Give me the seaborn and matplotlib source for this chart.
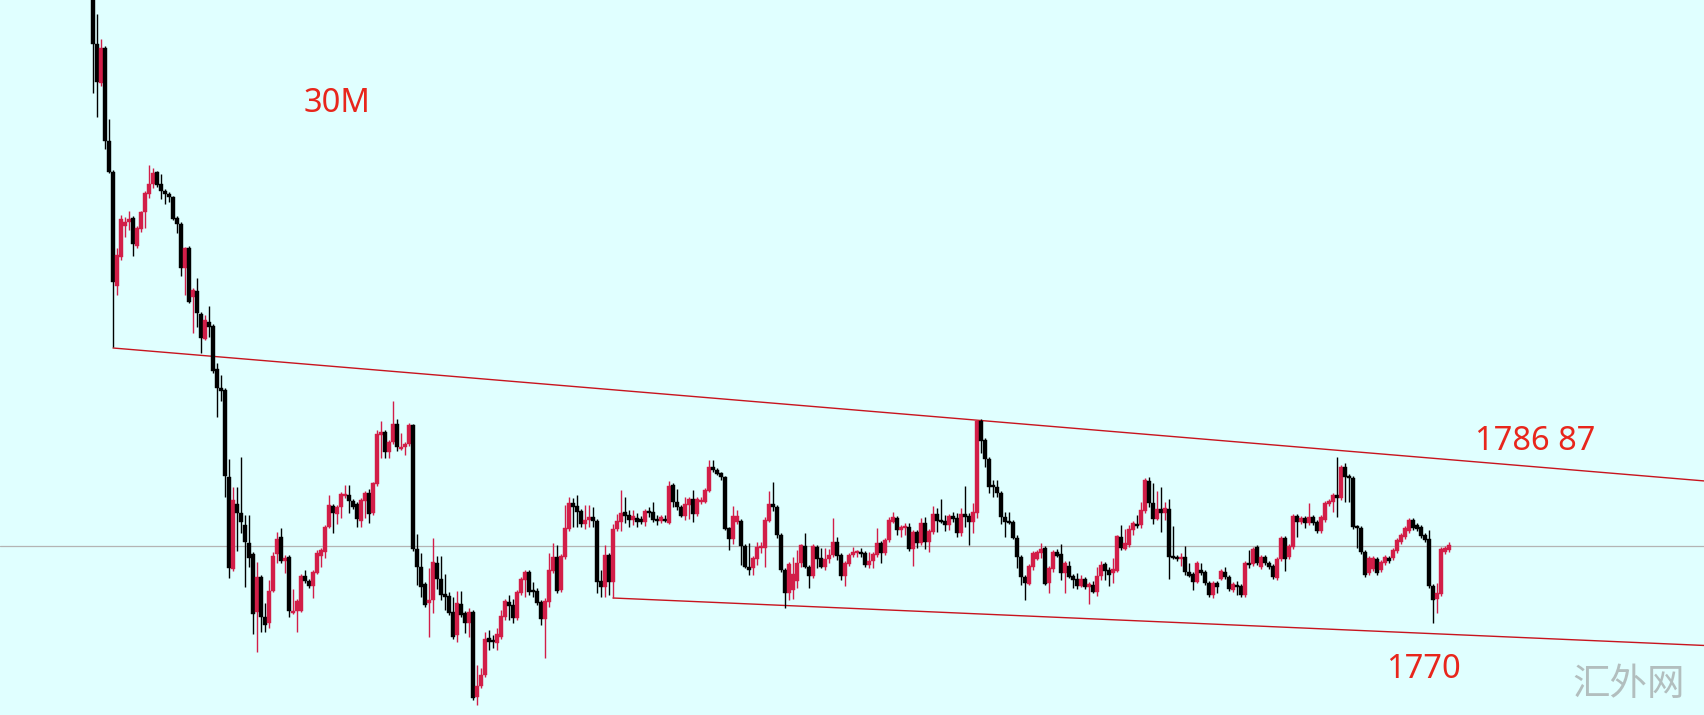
import numpy as np
import pandas as pd
import matplotlib
matplotlib.use("Agg")
import matplotlib.pyplot as plt
import seaborn as sns

# ---------------- data (30-minute candles) ----------------
opens = [
 1835.5, 1828.6, 1824.7, 1828.2, 1818.9, 1815.8, 1804.4, 1807.3, 1810.4, 1810.8,
 1811.2, 1808.4, 1810.1, 1811.8, 1813.6, 1814.6, 1815.8, 1814.6, 1813.9, 1813.6,
 1813.3, 1811.2, 1810.6, 1806.2, 1808.2, 1803.3, 1803.9, 1801.6, 1799.1, 1800.8,
 1800.4, 1796.1, 1794.2, 1794.0, 1785.3, 1776.1, 1782.6, 1781.7, 1780.5, 1778.7,
 1777.6, 1771.8, 1775.3, 1771.3, 1770.7, 1773.9, 1777.6, 1779.3, 1776.9, 1777.3,
 1771.7, 1771.9, 1771.9, 1775.4, 1774.9, 1774.4, 1775.7, 1777.4, 1777.8, 1780.3,
 1782.4, 1781.6, 1782.3, 1783.4, 1783.5, 1782.9, 1782.6, 1780.9, 1782.9, 1783.7,
 1781.7, 1784.6, 1789.5, 1789.8, 1787.8, 1788.8, 1790.6, 1788.1, 1788.3, 1788.6,
 1790.5, 1778.1, 1776.3, 1774.6, 1772.7, 1773.0, 1776.7, 1775.1, 1773.6, 1773.4,
 1771.8, 1769.5, 1772.6, 1771.7, 1770.7, 1771.8, 1763.3, 1764.4, 1765.5, 1769.2,
 1768.9, 1768.7, 1769.3, 1771.3, 1772.8, 1772.5, 1771.2, 1773.7, 1775.0, 1775.8,
 1773.9, 1773.9, 1772.8, 1771.1, 1772.8, 1775.9, 1777.3, 1774.0, 1777.3, 1780.1,
 1782.7, 1782.4, 1781.9, 1780.6, 1781.0, 1781.3, 1780.9, 1774.9, 1774.3, 1777.5,
 1774.8, 1780.1, 1780.8, 1781.8, 1781.5, 1781.0, 1781.2, 1781.1, 1780.8, 1781.9,
 1781.8, 1781.1, 1780.9, 1781.1, 1780.7, 1784.5, 1782.8, 1782.3, 1781.4, 1782.5,
 1783.1, 1781.6, 1782.8, 1782.8, 1783.9, 1786.3, 1786.0, 1785.7, 1785.3, 1780.2,
 1779.1, 1780.8, 1780.9, 1778.4, 1776.3, 1776.2, 1777.1, 1778.2, 1778.2, 1780.9,
 1782.6, 1782.3, 1779.5, 1776.0, 1773.7, 1774.0, 1774.9, 1776.7, 1778.4, 1776.3,
 1775.4, 1778.3, 1777.2, 1776.3, 1777.1, 1777.5, 1778.8, 1777.5, 1775.4, 1776.6,
 1777.5, 1777.7, 1777.7, 1777.7, 1776.5, 1776.9, 1777.5, 1778.7, 1777.7, 1779.0,
 1780.8, 1781.2, 1780.0, 1780.2, 1780.3, 1778.1, 1779.8, 1778.7, 1780.7, 1778.8,
 1779.8, 1781.6, 1781.0, 1780.9, 1780.5, 1781.4, 1781.2, 1779.7, 1781.6, 1781.4,
 1780.8, 1781.7, 1790.9, 1789.0, 1787.1, 1784.4, 1784.3, 1783.7, 1781.3, 1780.9,
 1780.8, 1779.2, 1777.3, 1775.3, 1774.6, 1776.3, 1777.1, 1777.7, 1778.2, 1774.7,
 1776.1, 1777.8, 1777.6, 1775.7, 1776.4, 1775.4, 1775.1, 1774.4, 1775.1, 1774.3,
 1774.5, 1773.8, 1775.4, 1776.6, 1776.0, 1775.7, 1775.9, 1779.3, 1778.1, 1778.5,
 1780.0, 1780.6, 1780.5, 1781.9, 1784.9, 1782.7, 1781.1, 1782.1, 1781.7, 1782.1,
 1777.4, 1777.3, 1777.1, 1777.3, 1775.8, 1775.6, 1774.8, 1776.0, 1775.8, 1774.7,
 1773.5, 1774.7, 1775.1, 1775.8, 1775.3, 1774.0, 1774.5, 1774.4, 1773.5, 1776.7,
 1776.6, 1778.3, 1776.3, 1777.3, 1776.7, 1776.4, 1775.2, 1777.1, 1779.2, 1777.3,
 1778.3, 1781.4, 1780.8, 1781.2, 1780.7, 1781.3, 1780.8, 1779.9, 1781.0, 1782.6,
 1782.8, 1783.5, 1783.2, 1786.3, 1785.4, 1785.2, 1780.3, 1780.2, 1777.8, 1775.7,
 1776.1, 1777.1, 1776.0, 1776.7, 1777.2, 1777.2, 1777.9, 1778.8, 1779.3, 1779.9,
 1781.0, 1780.5, 1780.3, 1779.5, 1779.1, 1774.4, 1773.1, 1773.6, 1777.8, 1778.0,
]
highs = [
 1836.5, 1831.6, 1829.1, 1828.4, 1821.1, 1816.0, 1808.2, 1811.5, 1811.3, 1811.9,
 1811.4, 1810.4, 1811.9, 1813.9, 1816.5, 1816.2, 1815.9, 1815.6, 1814.1, 1813.8,
 1813.4, 1811.4, 1810.8, 1808.3, 1808.4, 1804.2, 1805.2, 1801.8, 1801.5, 1802.4,
 1800.6, 1796.7, 1795.5, 1794.2, 1787.1, 1784.3, 1784.3, 1787.3, 1781.5, 1781.5,
 1777.8, 1776.8, 1775.5, 1772.7, 1775.0, 1777.8, 1779.8, 1780.2, 1777.5, 1777.5,
 1774.1, 1773.1, 1775.6, 1776.0, 1775.1, 1776.0, 1778.0, 1778.2, 1780.5, 1783.5,
 1782.6, 1782.5, 1783.8, 1784.5, 1784.5, 1783.1, 1782.8, 1783.2, 1783.9, 1784.1,
 1784.8, 1790.0, 1790.9, 1790.0, 1789.0, 1792.9, 1791.1, 1789.7, 1788.8, 1790.7,
 1790.6, 1779.6, 1777.7, 1774.8, 1776.2, 1779.2, 1777.4, 1777.4, 1775.6, 1773.8,
 1773.3, 1773.9, 1773.9, 1771.9, 1772.2, 1772.0, 1766.5, 1766.2, 1769.8, 1770.0,
 1769.5, 1770.2, 1772.0, 1773.1, 1773.5, 1773.1, 1774.0, 1775.3, 1776.0, 1776.0,
 1774.8, 1774.2, 1773.0, 1773.2, 1777.7, 1778.7, 1778.5, 1777.6, 1782.5, 1783.3,
 1783.2, 1783.5, 1782.1, 1782.5, 1782.5, 1782.3, 1781.1, 1776.0, 1778.5, 1777.7,
 1780.6, 1781.6, 1784.0, 1783.3, 1782.0, 1782.0, 1781.7, 1781.4, 1782.1, 1782.3,
 1782.8, 1781.5, 1781.5, 1781.5, 1784.9, 1784.7, 1784.1, 1782.5, 1783.3, 1783.3,
 1784.0, 1783.3, 1783.3, 1784.2, 1787.0, 1787.0, 1786.2, 1785.8, 1785.4, 1780.3,
 1782.4, 1782.0, 1781.1, 1778.6, 1778.7, 1777.4, 1778.8, 1778.8, 1781.3, 1783.9,
 1784.8, 1782.5, 1779.7, 1776.2, 1776.8, 1777.3, 1778.0, 1778.6, 1779.7, 1776.5,
 1778.6, 1778.5, 1778.2, 1778.2, 1778.1, 1781.2, 1779.3, 1777.7, 1776.9, 1777.7,
 1778.3, 1778.0, 1778.2, 1777.9, 1777.8, 1777.8, 1780.2, 1778.9, 1779.2, 1781.3,
 1781.8, 1781.4, 1780.5, 1780.7, 1780.7, 1780.0, 1780.0, 1781.2, 1781.3, 1780.1,
 1782.4, 1782.2, 1783.1, 1781.5, 1781.6, 1781.8, 1781.7, 1782.2, 1784.4, 1781.7,
 1782.7, 1791.0, 1791.1, 1789.2, 1787.3, 1785.0, 1785.0, 1783.9, 1781.8, 1781.8,
 1781.0, 1779.5, 1777.5, 1775.5, 1776.6, 1777.9, 1778.0, 1778.7, 1778.4, 1776.4,
 1778.0, 1778.1, 1778.6, 1776.9, 1776.9, 1775.6, 1775.7, 1775.5, 1775.3, 1774.8,
 1774.9, 1776.3, 1776.9, 1776.8, 1776.3, 1777.2, 1779.5, 1780.5, 1780.1, 1780.5,
 1780.9, 1781.5, 1782.8, 1785.2, 1785.3, 1784.7, 1783.9, 1784.3, 1782.8, 1783.1,
 1780.4, 1777.5, 1777.7, 1778.4, 1776.7, 1775.8, 1776.9, 1776.7, 1776.0, 1774.9,
 1774.9, 1774.9, 1776.1, 1776.3, 1775.5, 1774.8, 1774.9, 1774.6, 1776.9, 1778.0,
 1778.3, 1778.5, 1777.5, 1777.5, 1776.9, 1776.6, 1777.3, 1779.4, 1779.4, 1778.6,
 1781.6, 1781.6, 1781.4, 1781.4, 1782.7, 1781.5, 1781.0, 1781.5, 1782.9, 1783.1,
 1783.7, 1787.3, 1786.5, 1786.7, 1785.6, 1785.4, 1780.5, 1780.4, 1778.0, 1777.4,
 1777.4, 1777.3, 1777.0, 1777.5, 1777.4, 1778.2, 1779.2, 1779.7, 1780.4, 1781.2,
 1781.2, 1780.7, 1780.5, 1779.7, 1780.0, 1774.6, 1774.7, 1778.3, 1778.4, 1778.8,
]
lows = [
 1823.7, 1821.3, 1824.4, 1818.1, 1815.7, 1798.3, 1803.5, 1807.0, 1809.3, 1810.0,
 1807.4, 1808.2, 1809.8, 1810.2, 1813.2, 1814.2, 1814.3, 1813.1, 1812.6, 1812.8,
 1811.0, 1809.7, 1805.4, 1803.5, 1802.7, 1799.7, 1800.3, 1797.7, 1799.0, 1799.3,
 1795.7, 1791.3, 1792.9, 1783.3, 1775.2, 1775.9, 1777.9, 1779.7, 1774.3, 1776.3,
 1769.6, 1767.8, 1769.8, 1769.8, 1770.2, 1773.8, 1776.7, 1776.7, 1775.7, 1771.3,
 1771.6, 1769.8, 1771.8, 1774.7, 1774.2, 1773.2, 1775.6, 1776.3, 1777.2, 1780.2,
 1779.7, 1780.6, 1781.2, 1783.2, 1781.7, 1782.1, 1780.3, 1780.3, 1781.2, 1780.7,
 1781.5, 1784.4, 1787.2, 1787.2, 1787.2, 1788.6, 1787.9, 1788.0, 1787.5, 1788.4,
 1777.9, 1774.5, 1773.3, 1772.3, 1769.3, 1771.7, 1774.1, 1773.0, 1772.0, 1771.5,
 1769.1, 1768.8, 1771.3, 1769.7, 1769.3, 1763.0, 1762.5, 1764.2, 1765.3, 1768.0,
 1768.2, 1768.0, 1769.1, 1771.0, 1771.0, 1770.7, 1771.0, 1773.5, 1773.3, 1773.5,
 1773.3, 1772.5, 1770.5, 1767.2, 1772.3, 1775.7, 1773.7, 1773.8, 1777.1, 1779.9,
 1780.3, 1780.3, 1780.3, 1780.1, 1780.3, 1780.3, 1773.7, 1773.3, 1773.3, 1773.5,
 1773.2, 1779.9, 1779.9, 1780.7, 1780.3, 1780.5, 1780.3, 1780.6, 1780.4, 1781.3,
 1780.8, 1780.5, 1780.7, 1780.8, 1780.6, 1782.3, 1782.0, 1781.3, 1781.0, 1781.1,
 1780.8, 1781.4, 1782.6, 1782.7, 1783.8, 1785.8, 1785.5, 1785.0, 1780.0, 1778.0,
 1778.6, 1780.6, 1776.5, 1776.2, 1775.5, 1775.5, 1776.5, 1777.7, 1776.3, 1780.8,
 1781.9, 1779.2, 1775.8, 1772.2, 1773.0, 1773.1, 1774.2, 1776.3, 1776.2, 1774.2,
 1775.2, 1776.2, 1776.2, 1776.0, 1776.7, 1777.3, 1777.0, 1775.0, 1774.4, 1776.4,
 1777.3, 1777.3, 1777.3, 1776.3, 1776.2, 1776.2, 1777.3, 1776.7, 1777.5, 1778.8,
 1780.7, 1779.5, 1779.3, 1779.5, 1777.9, 1776.4, 1778.2, 1778.5, 1778.1, 1777.8,
 1779.6, 1779.8, 1780.7, 1779.9, 1780.0, 1780.8, 1779.3, 1779.4, 1780.3, 1778.5,
 1779.7, 1781.2, 1787.7, 1786.3, 1783.7, 1783.3, 1783.3, 1780.6, 1779.3, 1780.6,
 1779.1, 1776.2, 1774.5, 1773.0, 1774.5, 1776.0, 1777.0, 1777.2, 1774.5, 1773.7,
 1775.8, 1777.3, 1775.0, 1773.7, 1775.2, 1774.2, 1774.1, 1774.3, 1774.1, 1772.6,
 1773.7, 1773.4, 1775.0, 1775.0, 1774.4, 1774.7, 1775.8, 1778.0, 1778.0, 1778.3,
 1779.5, 1780.2, 1780.2, 1781.7, 1782.3, 1780.6, 1781.0, 1779.8, 1781.0, 1775.1,
 1777.1, 1776.9, 1776.4, 1775.5, 1775.3, 1774.0, 1774.7, 1775.5, 1774.5, 1773.3,
 1773.2, 1773.7, 1775.0, 1775.1, 1773.9, 1773.8, 1773.5, 1773.3, 1773.3, 1776.2,
 1776.4, 1776.5, 1776.1, 1776.5, 1776.1, 1775.1, 1775.0, 1776.9, 1775.9, 1777.1,
 1778.1, 1779.3, 1780.6, 1780.2, 1780.5, 1780.5, 1779.7, 1779.7, 1780.8, 1782.4,
 1781.8, 1781.3, 1783.0, 1782.8, 1782.8, 1780.1, 1778.2, 1777.6, 1775.3, 1775.5,
 1775.9, 1775.5, 1775.8, 1776.5, 1776.7, 1777.0, 1777.7, 1778.6, 1779.1, 1779.7,
 1780.0, 1779.9, 1779.2, 1778.8, 1774.2, 1770.7, 1771.7, 1773.4, 1777.6, 1777.8,
]
closes = [
 1828.6, 1824.8, 1828.2, 1818.9, 1815.8, 1804.8, 1807.5, 1811.1, 1810.8, 1811.1,
 1808.6, 1810.2, 1811.8, 1813.7, 1814.6, 1815.7, 1814.5, 1813.9, 1813.6, 1813.3,
 1811.1, 1810.6, 1806.2, 1808.2, 1802.8, 1804.0, 1801.7, 1799.2, 1801.0, 1800.3,
 1795.9, 1794.2, 1793.9, 1785.4, 1776.2, 1783.0, 1781.7, 1780.8, 1778.8, 1777.2,
 1771.6, 1775.3, 1771.3, 1770.5, 1773.9, 1777.4, 1779.1, 1776.9, 1777.2, 1771.9,
 1771.9, 1772.9, 1775.4, 1774.9, 1774.4, 1775.8, 1777.7, 1778.0, 1780.3, 1782.5,
 1781.7, 1782.3, 1783.6, 1783.6, 1782.9, 1782.3, 1781.1, 1783.0, 1783.7, 1781.6,
 1784.7, 1789.6, 1789.8, 1787.8, 1788.8, 1790.6, 1788.3, 1788.3, 1788.6, 1790.5,
 1778.1, 1776.3, 1774.3, 1772.5, 1773.0, 1776.8, 1775.1, 1773.5, 1773.3, 1771.7,
 1769.3, 1772.7, 1771.5, 1770.7, 1771.8, 1763.2, 1764.4, 1765.5, 1769.1, 1768.8,
 1768.8, 1769.6, 1771.4, 1772.9, 1772.4, 1771.2, 1773.8, 1775.1, 1775.8, 1773.8,
 1773.8, 1772.7, 1771.1, 1772.9, 1776.0, 1777.3, 1773.9, 1777.4, 1780.2, 1782.7,
 1782.3, 1781.8, 1780.6, 1781.0, 1781.3, 1780.9, 1774.8, 1774.3, 1777.5, 1774.8,
 1780.1, 1780.9, 1781.7, 1781.4, 1781.0, 1781.4, 1780.8, 1780.8, 1781.9, 1781.7,
 1781.0, 1780.9, 1781.3, 1780.9, 1784.4, 1782.8, 1782.3, 1781.4, 1782.6, 1783.1,
 1781.6, 1783.1, 1783.0, 1784.0, 1786.3, 1786.0, 1785.6, 1785.3, 1780.1, 1779.1,
 1781.4, 1781.4, 1778.4, 1776.3, 1776.0, 1777.2, 1778.3, 1778.4, 1781.0, 1782.6,
 1782.3, 1779.5, 1776.0, 1773.7, 1776.6, 1775.6, 1776.7, 1778.5, 1776.3, 1775.4,
 1778.4, 1777.1, 1776.3, 1777.1, 1777.5, 1778.8, 1777.4, 1775.4, 1776.7, 1777.5,
 1777.8, 1777.8, 1777.6, 1776.5, 1776.9, 1777.6, 1778.7, 1777.7, 1779.0, 1781.0,
 1781.3, 1780.0, 1780.3, 1780.3, 1778.1, 1779.8, 1778.7, 1780.7, 1778.8, 1779.9,
 1781.6, 1780.9, 1780.8, 1780.5, 1781.4, 1781.1, 1779.7, 1781.6, 1781.3, 1780.8,
 1781.8, 1790.9, 1788.9, 1787.1, 1784.3, 1784.3, 1783.7, 1781.3, 1780.8, 1780.7,
 1779.2, 1777.3, 1775.3, 1774.7, 1776.4, 1777.7, 1777.8, 1778.1, 1774.6, 1776.2,
 1777.8, 1777.4, 1775.7, 1776.7, 1775.3, 1775.0, 1774.4, 1775.1, 1774.3, 1774.6,
 1773.8, 1775.4, 1776.5, 1775.9, 1775.5, 1776.1, 1779.4, 1778.2, 1778.7, 1780.1,
 1780.7, 1780.4, 1782.0, 1785.0, 1782.7, 1781.1, 1782.1, 1781.7, 1782.2, 1777.3,
 1777.2, 1777.1, 1777.3, 1775.8, 1775.4, 1774.8, 1776.7, 1775.7, 1774.7, 1773.5,
 1774.7, 1774.3, 1775.9, 1775.3, 1774.1, 1774.6, 1774.3, 1773.5, 1776.7, 1776.5,
 1778.1, 1776.7, 1777.3, 1776.7, 1776.3, 1775.3, 1777.1, 1779.2, 1777.1, 1778.4,
 1781.4, 1780.8, 1781.2, 1780.7, 1781.3, 1780.7, 1779.9, 1781.3, 1782.7, 1782.9,
 1783.5, 1783.2, 1786.3, 1785.3, 1785.2, 1780.3, 1780.2, 1777.8, 1775.5, 1777.2,
 1777.2, 1775.7, 1776.8, 1777.3, 1776.9, 1778.0, 1779.0, 1779.5, 1780.2, 1781.0,
 1780.2, 1780.1, 1779.4, 1779.0, 1774.4, 1773.0, 1773.7, 1778.1, 1778.2, 1778.5,
]

# trend lines (candle index, price) and reference level
upper_line_x = [5, 403]
upper_line_y = [1798.2, 1784.9]
lower_line_x = [130, 403]
lower_line_y = [1773.2, 1768.45]
ref_level = 1778.45

labels = ["30M", "1786 87", "1770"]
watermark = "汇外网"

# ---------------- drawing ----------------
sns.set_style("white")
plt.rcParams["font.family"] = ["Noto Sans", "DejaVu Sans"]

BG = "#E0FFFF"
UP = "#D21E48"
DOWN = "#000000"
LINE_RED = "#C8141E"
TEXT_RED = "#E8261C"

df = pd.DataFrame({"o": opens, "h": highs, "l": lows, "c": closes})
df["i"] = np.arange(len(df))
df["up"] = df["c"] >= df["o"]
colors = np.where(df["up"], UP, DOWN)

fig = plt.figure(figsize=(17.04, 7.15), dpi=100, facecolor=BG)
ax = fig.add_axes([0, 0, 1, 1])
ax.set_facecolor(BG)

# reference level
ax.axhline(ref_level, color="#B4B4B4", lw=0.9, zorder=1)

# trend lines via seaborn
sns.lineplot(x=upper_line_x, y=upper_line_y, ax=ax, color=LINE_RED, lw=1.0, zorder=2)
sns.lineplot(x=lower_line_x, y=lower_line_y, ax=ax, color=LINE_RED, lw=1.0, zorder=2)

# candles
ax.vlines(df["i"], df["l"], df["h"], colors=colors, lw=1.0, zorder=3)
body_bottom = np.minimum(df["o"], df["c"])
body_h = np.maximum(np.abs(df["c"] - df["o"]), 0.15)
ax.bar(df["i"], body_h, bottom=body_bottom, width=0.8, color=colors,
       edgecolor=colors, linewidth=0.3, zorder=4)

ax.set_xlim(-23.25, 402.75)
ax.set_ylim(1761.5, 1833.0)
ax.axis("off")

# annotations
fig.text(304 / 1704, 1 - 104 / 715, labels[0], color=TEXT_RED, fontsize=23.5,
         ha="left", va="center")
fig.text(1475 / 1704, 1 - 441 / 715, labels[1], color=TEXT_RED, fontsize=23.5,
         ha="left", va="center")
fig.text(1386 / 1704, 1 - 669 / 715, labels[2], color=TEXT_RED, fontsize=23.5,
         ha="left", va="center")
fig.text(1572 / 1704, 1 - 685 / 715, watermark, color="#B2BEBE", fontsize=27,
         ha="left", va="center", family=["Noto Sans CJK SC", "DejaVu Sans"])

fig.savefig("out.png", dpi=100, facecolor=BG)
